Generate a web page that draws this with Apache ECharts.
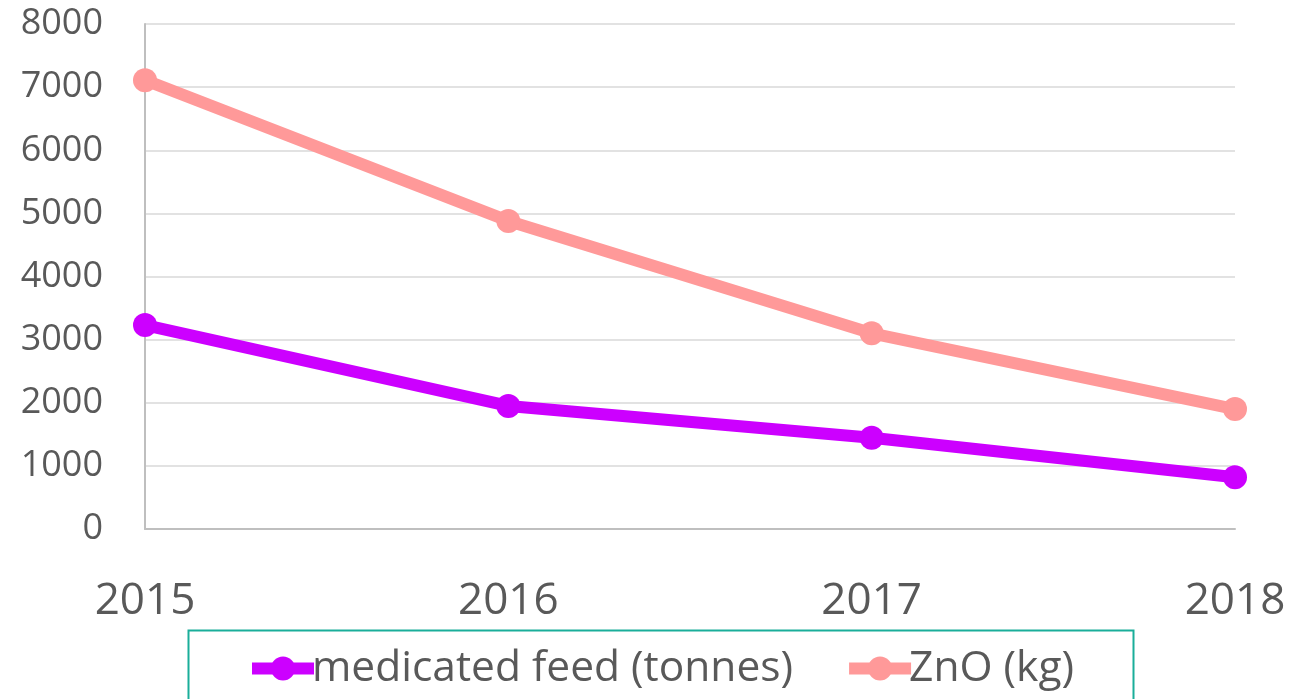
<!DOCTYPE html>
<html><head><meta charset="utf-8">
<script src="https://cdn.jsdelivr.net/npm/echarts@6/dist/echarts.min.js"></script>
<style>html,body{margin:0;padding:0;background:#fff}#c{width:1304px;height:699px}</style>
</head><body><div id="c"></div>
<script>
const years = ['2015','2016','2017','2018'];
const medicatedFeed = [3230, 1950, 1445, 820];
const znO = [7110, 4880, 3100, 1900];
const seriesNames = ['medicated feed (tonnes)', 'ZnO (kg)'];
const font = 'Open Sans';
const chart = echarts.init(document.getElementById('c'));
chart.setOption({
  animation: false,
  textStyle: { fontFamily: font },
  grid: { left: 145, right: 69, top: 24, bottom: 170 },
  graphic: [{ type: 'rect', left: 186, top: 628, shape: { width: 945, height: 100 },
    style: { fill: 'none', stroke: '#1aae9a', lineWidth: 2 } }],
  legend: {
    top: 642, left: 241, itemWidth: 62, itemHeight: 30, itemGap: 50,
    textStyle: { fontSize: 42.5, color: '#595959', fontFamily: font, padding: [0,0,0,-7] },
    lineStyle: { width: 12 },
    data: seriesNames
  },
  xAxis: {
    type: 'category', data: years, boundaryGap: false,
    axisLine: { lineStyle: { color: '#bfbfbf', width: 2 } },
    axisTick: { show: false },
    axisLabel: { fontSize: 44, color: '#595959', margin: 50 }
  },
  yAxis: {
    type: 'value', min: 0, max: 8000, interval: 1000,
    axisLine: { show: true, lineStyle: { color: '#bfbfbf', width: 2 } },
    splitLine: { lineStyle: { color: '#d9d9d9', width: 1.5 } },
    axisLabel: { fontSize: 36, color: '#595959', margin: 42, formatter: v => String(v) }
  },
  series: [
    { name: seriesNames[0], type: 'line', data: medicatedFeed, symbol: 'circle', symbolSize: 24,
      lineStyle: { width: 12, color: '#cc00ff' }, itemStyle: { color: '#cc00ff' } },
    { name: seriesNames[1], type: 'line', data: znO, symbol: 'circle', symbolSize: 24,
      lineStyle: { width: 12, color: '#ff9999' }, itemStyle: { color: '#ff9999' } }
  ]
});
</script></body></html>
